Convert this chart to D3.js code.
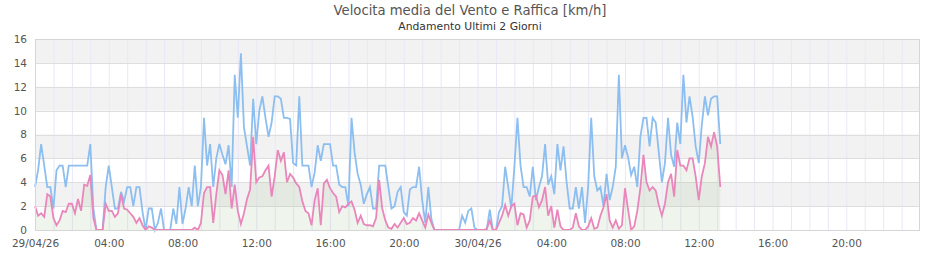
<!DOCTYPE html>
<html>
<head>
<meta charset="utf-8">
<script src="https://cdn.jsdelivr.net/npm/d3@7"></script>
<style>
  body { margin: 0; background: #fff; }
  svg { display: block; font-family: "DejaVu Sans", sans-serif; }
</style>
</head>
<body>
<svg id="chart" width="940" height="260"></svg>
<script>
// chart texts
const title = 'Velocita media del Vento e Raffica [km/h]';
const subtitle = 'Andamento Ultimi 2 Giorni';

// time axis: two days, one sample every 10 minutes
const startTime = new Date(2026, 3, 29, 0, 0);
const endTime = new Date(2026, 4, 1, 0, 0);
const stepMinutes = 10;

const yTicks = [0, 2, 4, 6, 8, 10, 12, 14, 16];
const bands = [[2, 4], [6, 8], [10, 12], [14, 16]];

// raffica (gust) km/h
const raffica = [
  3.6, 5.0, 7.2, 5.4, 3.6, 3.6, 1.8, 5.0, 5.4, 5.4, 3.6, 5.4, 5.4, 5.4, 5.4, 5.4, 5.4, 5.4, 7.2, 1.8,
  0, 0, 0, 3.6, 5.4, 3.6, 1.8, 1.8, 3.2, 2.4, 3.6, 3.6, 2.0, 3.6, 3.6, 1.5, 0, 1.8, 1.8, 0,
  0.6, 1.8, 0, 0, 0, 1.8, 0.5, 3.6, 0.5, 1.8, 3.6, 2.0, 5.4, 2.0, 3.6, 9.4, 5.4, 7.2, 3.6, 6.0,
  7.2, 6.3, 5.5, 7.1, 3.6, 13.0, 9.4, 14.8, 8.6, 7.0, 5.4, 11.0, 7.2, 10.0, 11.2, 9.4, 7.8, 9.0, 11.2, 11.2,
  11.0, 9.4, 9.4, 9.3, 5.6, 5.4, 11.2, 5.4, 5.4, 5.4, 3.6, 4.8, 7.1, 5.8, 7.2, 7.2, 7.2, 5.4, 5.4, 3.8,
  3.6, 3.6, 2.0, 9.4, 6.5, 4.7, 3.8, 2.2, 3.0, 3.6, 1.8, 1.8, 5.4, 5.4, 5.4, 3.6, 1.8, 2.0, 3.2, 3.6,
  1.5, 1.2, 3.4, 3.6, 3.6, 5.3, 2.5, 0.6, 3.6, 0.9, 0, 0, 0, 0, 0, 0, 0, 0, 0, 1.2,
  0.6, 1.6, 1.8, 0.2, 0, 0, 0, 0, 1.7, 0, 0, 1.5, 2.0, 5.3, 3.6, 1.8, 5.3, 9.4, 5.4, 3.6,
  3.6, 2.8, 5.3, 2.5, 3.6, 4.5, 7.2, 3.8, 4.5, 3.0, 7.2, 5.0, 7.0, 4.0, 1.8, 1.8, 3.6, 1.8, 3.6, 0.6,
  3.6, 9.4, 4.5, 3.3, 3.6, 2.0, 4.7, 2.5, 3.6, 5.3, 13.0, 6.0, 7.1, 6.1, 4.6, 5.3, 3.6, 7.8, 9.4, 9.4,
  7.0, 9.4, 9.0, 6.5, 4.0, 5.6, 9.4, 6.3, 5.3, 9.0, 7.2, 13.0, 9.0, 11.2, 9.5, 7.0, 5.6, 8.8, 11.2, 9.6,
  11.0, 11.2, 11.2, 7.2
];

// velocita media km/h
const media = [
  2.0, 1.2, 1.4, 1.1, 3.0, 2.8, 1.0, 0.4, 0.8, 1.6, 1.5, 2.2, 2.2, 1.4, 2.6, 1.6, 3.8, 3.7, 4.6, 1.0,
  0, 0, 0, 2.2, 1.6, 1.6, 1.1, 1.4, 3.0, 1.8, 1.7, 1.4, 1.1, 0.6, 1.0, 0.4, 0, 0.3, 0.2, 0,
  0, 0, 0, 0, 0, 0, 0, 0, 0, 0, 0, 0, 0.2, 0, 0.6, 3.1, 3.6, 3.6, 0.6, 3.0,
  5.0, 4.6, 3.0, 5.0, 1.8, 3.8, 1.6, 0.5, 1.4, 2.6, 3.4, 7.8, 4.0, 4.4, 4.5, 5.0, 5.4, 2.8, 4.5, 6.7,
  5.8, 6.5, 4.0, 4.7, 4.4, 3.9, 3.6, 2.4, 1.6, 1.4, 0.4, 2.5, 3.5, 0.4, 3.9, 4.2, 3.5, 3.1, 2.8, 1.5,
  2.0, 1.9, 2.2, 2.4, 1.7, 0.6, 1.2, 0.5, 0.4, 0.4, 0.3, 1.0, 4.2, 1.8, 0.8, 0.2, 0.1, 0.5, 0.2, 0.6,
  1.0, 0.5, 0.6, 1.0, 0.8, 1.4, 0.8, 0.2, 1.3, 0.6, 0, 0, 0, 0, 0, 0, 0, 0, 0, 0,
  0, 0, 0, 0, 0, 0, 0, 0.1, 0.8, 0, 0, 0.6, 1.2, 2.1, 1.2, 2.0, 2.2, 0.4, 1.4, 1.3,
  0.2, 0.8, 2.8, 2.9, 1.9, 2.5, 3.6, 1.2, 2.0, 0.2, 1.7, 0.3, 0, 0, 0, 0.2, 1.4, 0.3, 0, 0,
  0.3, 1.0, 0.1, 0.2, 1.2, 1.9, 3.0, 0.8, 0.2, 0.8, 0.1, 0.4, 3.5, 1.7, 0, 0.3, 1.6, 3.5, 6.3, 4.0,
  3.3, 3.6, 3.3, 2.1, 1.2, 2.2, 4.0, 4.7, 2.8, 6.7, 5.4, 5.4, 5.0, 6.0, 6.0, 4.5, 2.5, 4.5, 5.6, 7.8,
  7.0, 8.2, 7.0, 3.6
];

const width = 940, height = 260;
const margin = { top: 39, right: 20, bottom: 30, left: 35 };

const svg = d3.select('#chart');

const x = d3.scaleTime()
  .domain([startTime, endTime])
  .range([margin.left, width - margin.right]);

const y = d3.scaleLinear()
  .domain([0, 16])
  .range([height - margin.bottom, margin.top]);

const timeAt = i => d3.timeMinute.offset(startTime, i * stepMinutes);
const gustData = raffica.map((v, i) => ({ t: timeAt(i), v }));
const meanData = media.map((v, i) => ({ t: timeAt(i), v }));

// title
svg.append('text')
  .attr('x', width / 2)
  .attr('y', 15)
  .attr('text-anchor', 'middle')
  .attr('font-size', 13.2)
  .attr('fill', '#555')
  .text(title);

svg.append('text')
  .attr('x', width / 2)
  .attr('y', 30)
  .attr('text-anchor', 'middle')
  .attr('font-size', 10.8)
  .attr('fill', '#333')
  .text(subtitle);

// alternating bands
svg.append('g')
  .selectAll('rect')
  .data(bands)
  .join('rect')
  .attr('x', margin.left)
  .attr('width', width - margin.right - margin.left)
  .attr('y', d => y(d[1]))
  .attr('height', d => y(d[0]) - y(d[1]))
  .attr('fill', '#f2f2f2');

// hourly vertical grid
svg.append('g')
  .selectAll('line')
  .data(d3.timeHour.every(1).range(d3.timeHour.offset(startTime, 1), endTime))
  .join('line')
  .attr('x1', d => x(d) + 0.5)
  .attr('x2', d => x(d) + 0.5)
  .attr('y1', y(16))
  .attr('y2', y(0))
  .attr('stroke', '#e9e7f8')
  .attr('stroke-width', 1);

// horizontal grid
svg.append('g')
  .selectAll('line')
  .data(yTicks)
  .join('line')
  .attr('x1', margin.left)
  .attr('x2', width - margin.right)
  .attr('y1', d => Math.round(y(d)) + 0.5)
  .attr('y2', d => Math.round(y(d)) + 0.5)
  .attr('stroke', '#dedede');

// area under mean speed
const area = d3.area()
  .x(d => x(d.t))
  .y0(y(0))
  .y1(d => y(d.v));

svg.append('path')
  .attr('d', area(meanData))
  .attr('fill', 'rgb(150,190,130)')
  .attr('fill-opacity', 0.15);

const line = d3.line()
  .x(d => x(d.t))
  .y(d => y(d.v));

svg.append('path')
  .attr('d', line(gustData))
  .attr('fill', 'none')
  .attr('stroke', '#8cbef0')
  .attr('stroke-width', 1.8);

svg.append('path')
  .attr('d', line(meanData))
  .attr('fill', 'none')
  .attr('stroke', '#e986bb')
  .attr('stroke-width', 1.8);

// plot border
svg.append('rect')
  .attr('x', margin.left + 0.5)
  .attr('y', Math.round(y(16)) + 0.5)
  .attr('width', width - margin.right - margin.left - 1)
  .attr('height', Math.round(y(0)) - Math.round(y(16)))
  .attr('fill', 'none')
  .attr('stroke', '#d6d6d6');

// axes
const fmtDay = d3.timeFormat('%d/%m/%y');
const fmtHour = d3.timeFormat('%H:%M');

const xAxis = d3.axisBottom(x)
  .ticks(d3.timeHour.every(4))
  .tickSize(0)
  .tickPadding(10)
  .tickFormat(d => d.getHours() === 0 ? fmtDay(d) : fmtHour(d));

const gx = svg.append('g')
  .attr('transform', `translate(0,${y(0)})`)
  .call(xAxis);
gx.select('.domain').remove();
gx.selectAll('text')
  .attr('font-size', 10.5)
  .attr('font-family', '"DejaVu Sans", sans-serif')
  .attr('fill', '#555');
// last tick (01/05) is not labelled
gx.selectAll('.tick').filter(d => +d === +endTime).remove();

const yAxis = d3.axisLeft(y)
  .tickValues(yTicks)
  .tickSize(0)
  .tickPadding(8);

const gy = svg.append('g')
  .attr('transform', `translate(${margin.left},0)`)
  .call(yAxis);
gy.select('.domain').remove();
gy.selectAll('text')
  .attr('font-size', 10.5)
  .attr('font-family', '"DejaVu Sans", sans-serif')
  .attr('fill', '#555');
</script>
</body>
</html>
